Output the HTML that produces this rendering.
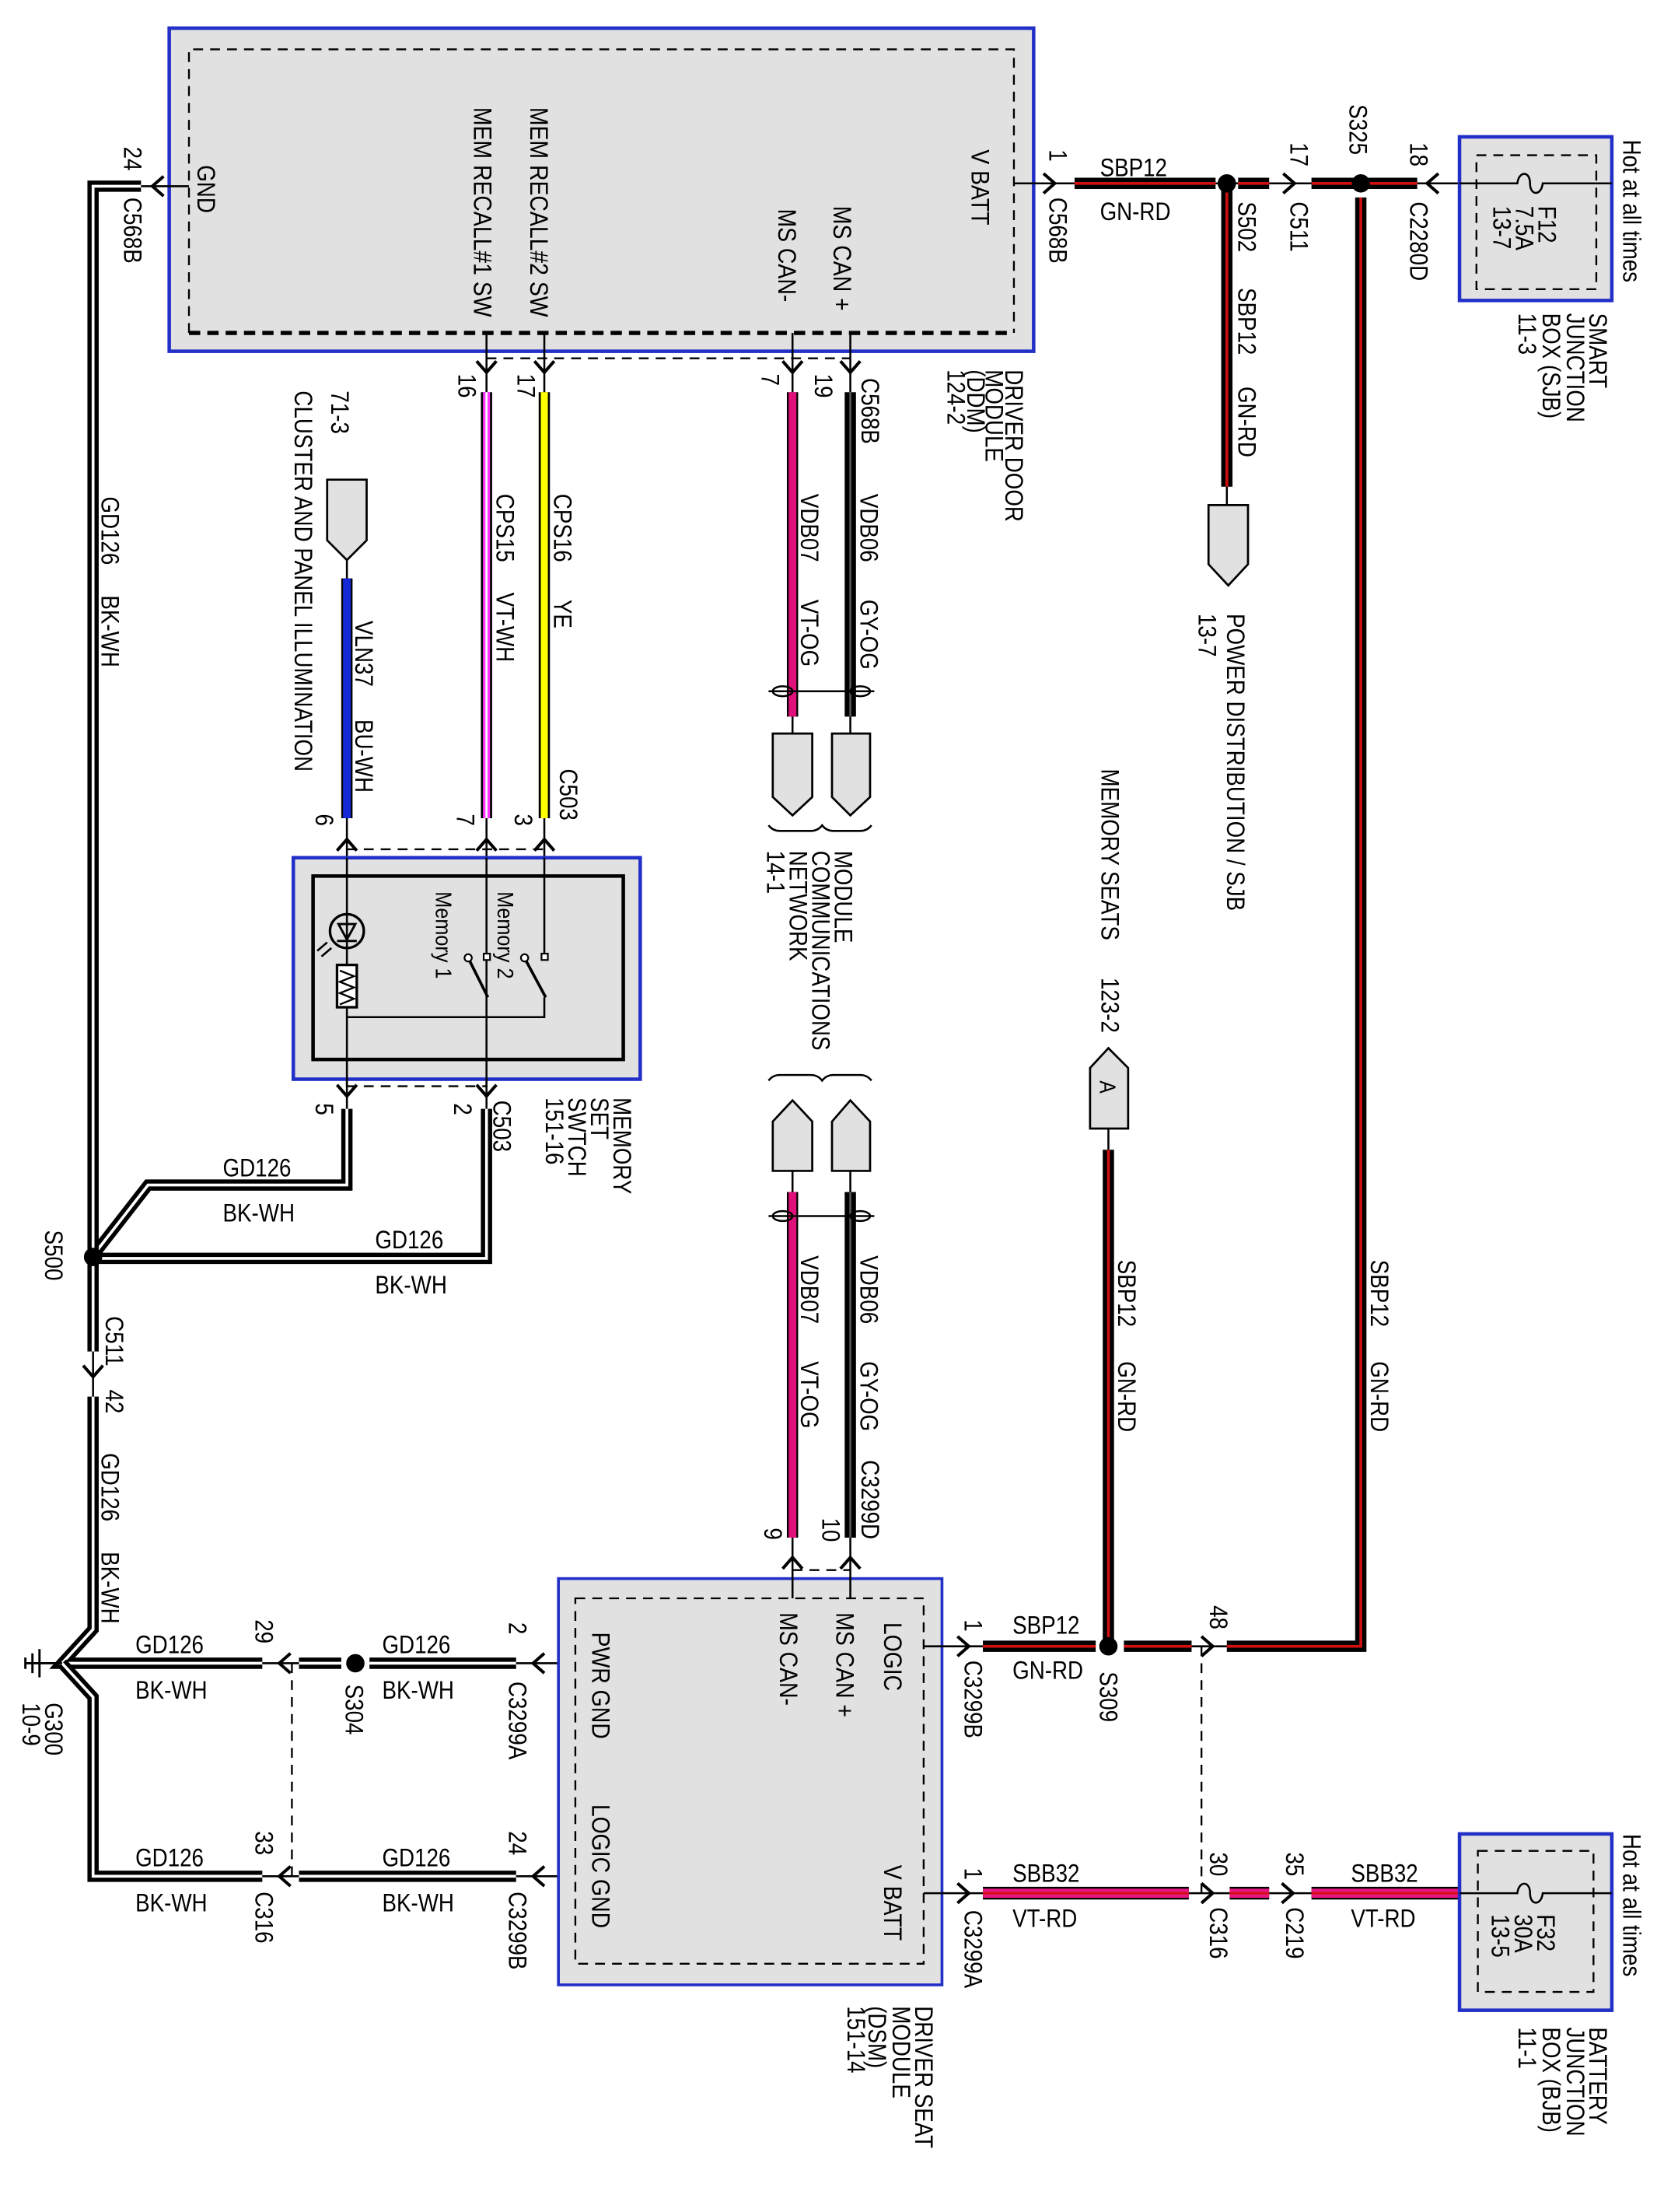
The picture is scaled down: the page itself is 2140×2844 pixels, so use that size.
<!DOCTYPE html>
<html><head><meta charset="utf-8"><style>
html,body{margin:0;padding:0;background:#fff}
svg{display:block}
text{font-family:"Liberation Sans",Arial,sans-serif;font-size:18px;fill:#000}
.s{font-size:16px}
.thin{stroke:#000;stroke-width:1.4;fill:none}
.dash{stroke:#000;stroke-width:1.3;fill:none;stroke-dasharray:7 5}
.ar{stroke:#000;stroke-width:2.2;fill:none}
</style></head><body>
<svg width="2140" height="2844" viewBox="0 0 1180 1568" preserveAspectRatio="none" xmlns="http://www.w3.org/2000/svg">
<rect width="1180" height="1568" fill="#fff"/>

<!-- DDM box -->
<rect x="120" y="20" width="613" height="229" fill="#e1e1e1" stroke="#2230c8" stroke-width="2.5"/>
<path d="M134,236 V35 H719 V236" class="dash"/>
<line x1="134" y1="236" x2="719" y2="236" stroke="#000" stroke-width="3" stroke-dasharray="8 5"/>
<line x1="345" y1="254" x2="603" y2="254" class="dash"/>
<!-- DDM pin stubs -->
<path d="M345,236V278 M386,236V278 M562,236V278 M603,236V278" class="thin"/>
<path d="M338,256L345,264L352,256 M379,256L386,264L393,256 M555,256L562,264L569,256 M596,256L603,264L610,256" class="ar"/>

<!-- wires top vertical -->
<line x1="345" y1="278" x2="345" y2="580" stroke="#000" stroke-width="8"/><line x1="345" y1="278" x2="345" y2="580" stroke="#ff33ff" stroke-width="5"/><line x1="345" y1="278" x2="345" y2="580" stroke="#fff" stroke-width="1.5"/>
<line x1="386" y1="278" x2="386" y2="580" stroke="#000" stroke-width="8"/><line x1="386" y1="278" x2="386" y2="580" stroke="#ffff00" stroke-width="5"/>
<line x1="562" y1="278" x2="562" y2="508" stroke="#000" stroke-width="8"/><line x1="562" y1="278" x2="562" y2="508" stroke="#e0107a" stroke-width="5.5"/>
<line x1="603" y1="278" x2="603" y2="508" stroke="#000" stroke-width="8"/><line x1="603" y1="278" x2="603" y2="508" stroke="#555" stroke-width="1.5"/>
<!-- twist -->
<path d="M545,490 H620" class="thin"/>
<ellipse cx="555" cy="490" rx="7" ry="3.5" class="thin"/><ellipse cx="610" cy="490" rx="7" ry="3.5" class="thin"/>
<path d="M562,508V520 M603,508V520" class="thin"/>
<!-- CAN connectors down -->
<path d="M548,520H576V565L562,578L548,565Z" fill="#e1e1e1" stroke="#000" stroke-width="1.5"/>
<path d="M590,520H617V565L603,578L590,565Z" fill="#e1e1e1" stroke="#000" stroke-width="1.5"/>
<path d="M545,585 q3,4 8,4 H575 q5,0 8,-4 q3,4 8,4 H610 q5,0 8,-4" class="thin"/>

<!-- cluster connector -->
<path d="M232,340H260V383L246,397L232,383Z" fill="#e1e1e1" stroke="#000" stroke-width="1.5"/>
<path d="M246,397V410" class="thin"/>
<line x1="246" y1="410" x2="246" y2="580" stroke="#000" stroke-width="8"/><line x1="246" y1="410" x2="246" y2="580" stroke="#1428d8" stroke-width="5.5"/>

<!-- memory switch -->
<path d="M246,580V608 M345,580V608 M386,580V608" class="thin"/>
<path d="M239,603L246,595L253,603 M338,603L345,595L352,603 M379,603L386,595L393,603" class="ar"/>
<line x1="246" y1="602" x2="386" y2="602" class="dash"/>
<rect x="208" y="608" width="246" height="157" fill="#e1e1e1" stroke="#2230c8" stroke-width="2.5"/>
<rect x="222" y="621" width="220" height="130" fill="none" stroke="#000" stroke-width="2.5"/>
<path d="M246,608V770 M345,608V770 M386,608V678 M386,707V721 H246" class="thin"/>
<circle cx="246" cy="660" r="12" fill="none" stroke="#000" stroke-width="1.8"/>
<path d="M240,655H252L246,666Z M239,667H253" fill="none" stroke="#000" stroke-width="1.6"/>
<path d="M232,668 l-7,6 M235,672 l-7,6" stroke="#000" stroke-width="1.4"/>
<rect x="239" y="684" width="14" height="30" fill="#fff" stroke="#000" stroke-width="1.8"/>
<path d="M241,688 l10,4 l-10,4 l10,4 l-10,4 l10,4 l-10,4" fill="none" stroke="#000" stroke-width="1.3"/>
<rect x="343" y="676" width="4.5" height="4.5" fill="#fff" stroke="#000" stroke-width="1.2"/>
<rect x="384" y="676" width="4.5" height="4.5" fill="#fff" stroke="#000" stroke-width="1.2"/>
<circle cx="332" cy="679" r="2.6" fill="#fff" stroke="#000" stroke-width="1.2"/>
<circle cx="372" cy="679" r="2.6" fill="#fff" stroke="#000" stroke-width="1.2"/>
<path d="M333,681 L346,707 M373,681 L387,707" stroke="#000" stroke-width="2"/>
<line x1="246" y1="770" x2="345" y2="770" class="dash"/>
<path d="M246,765V786 M345,765V786" class="thin"/>
<path d="M239,769L246,777L253,769 M338,769L345,777L352,769" class="ar"/>

<!-- ground wires BK-WH -->
<g fill="none" stroke-linejoin="miter">
<polyline points="246,786 246,840 105,840 66,890" stroke="#000" stroke-width="8"/>
<polyline points="246,786 246,840 105,840 66,890" stroke="#fff" stroke-width="2"/>
<polyline points="345,786 345,892 66,892" stroke="#000" stroke-width="8"/>
<polyline points="345,786 345,892 66,892" stroke="#fff" stroke-width="2"/>
<polyline points="100,132 66,132 66,958" stroke="#000" stroke-width="8"/>
<polyline points="100,132 66,132 66,958" stroke="#fff" stroke-width="2"/>
<polyline points="66,990 66,1155 44,1179 186,1179" stroke="#000" stroke-width="8"/>
<polyline points="66,990 66,1155 44,1179 186,1179" stroke="#fff" stroke-width="2"/>
<polyline points="186,1330 66,1330 66,1203 44,1179" stroke="#000" stroke-width="8"/>
<polyline points="186,1330 66,1330 66,1203 44,1179" stroke="#fff" stroke-width="2"/>
<line x1="212" y1="1179" x2="242" y2="1179" stroke="#000" stroke-width="8"/><line x1="212" y1="1179" x2="242" y2="1179" stroke="#fff" stroke-width="2"/>
<line x1="262" y1="1179" x2="366" y2="1179" stroke="#000" stroke-width="8"/><line x1="262" y1="1179" x2="366" y2="1179" stroke="#fff" stroke-width="2"/>
<line x1="212" y1="1330" x2="366" y2="1330" stroke="#000" stroke-width="8"/><line x1="212" y1="1330" x2="366" y2="1330" stroke="#fff" stroke-width="2"/>
</g>
<path d="M100,132H134 M66,958V990 M186,1179H212 M366,1179H408 M186,1330H212 M366,1330H408" class="thin"/>
<path d="M116,125L108,132L116,139 M59,968L66,976L73,968 M206,1172L198,1179L206,1186 M386,1172L378,1179L386,1186 M206,1323L198,1330L206,1337 M386,1323L378,1330L386,1337" class="ar"/>
<circle cx="66" cy="891" r="6.5" fill="#000"/>
<circle cx="252" cy="1179" r="6.5" fill="#000"/>
<line x1="207" y1="1179" x2="207" y2="1330" class="dash"/>
<!-- ground symbol -->
<path d="M18,1179H44 M28,1169V1189 M23,1172V1186 M18,1175V1183" stroke="#000" stroke-width="1.6"/>

<!-- DSM box -->
<rect x="396" y="1119" width="272" height="288" fill="#e1e1e1" stroke="#2230c8" stroke-width="2"/>
<rect x="408" y="1133" width="247" height="259" fill="none" class="dash"/>
<path d="M562,1133V1090 M603,1133V1090" class="thin"/>
<path d="M555,1112L562,1104L569,1112 M596,1112L603,1104L610,1112" class="ar"/>
<line x1="562" y1="1113" x2="603" y2="1113" class="dash"/>
<line x1="562" y1="845" x2="562" y2="1090" stroke="#000" stroke-width="8"/><line x1="562" y1="845" x2="562" y2="1090" stroke="#e0107a" stroke-width="5.5"/>
<line x1="603" y1="845" x2="603" y2="1090" stroke="#000" stroke-width="8"/><line x1="603" y1="845" x2="603" y2="1090" stroke="#555" stroke-width="1.5"/>
<path d="M545,862 H620" class="thin"/>
<ellipse cx="555" cy="862" rx="7" ry="3.5" class="thin"/><ellipse cx="610" cy="862" rx="7" ry="3.5" class="thin"/>
<path d="M562,830V845 M603,830V845" class="thin"/>
<path d="M548,830H576V795L562,780L548,795Z" fill="#e1e1e1" stroke="#000" stroke-width="1.5"/>
<path d="M590,830H617V795L603,780L590,795Z" fill="#e1e1e1" stroke="#000" stroke-width="1.5"/>
<path d="M545,766 q3,-4 8,-4 H575 q5,0 8,4 q3,-4 8,-4 H610 q5,0 8,4" class="thin"/>

<!-- right side wires -->
<path d="M655,1167H697 M655,1342H697 M845,1167H870 M843,1342H872 M900,1342H930" class="thin"/>
<path d="M679,1160L687,1167L679,1174 M679,1335L687,1342L679,1349 M852,1160L860,1167L852,1174 M852,1335L860,1342L852,1349 M909,1335L917,1342L909,1349" class="ar"/>
<line x1="852" y1="1167" x2="852" y2="1342" class="dash"/>
<g fill="none">
<polyline points="697,1167 777,1167" stroke="#000" stroke-width="8"/><polyline points="697,1167 777,1167" stroke="#d01010" stroke-width="2"/>
<polyline points="797,1167 845,1167" stroke="#000" stroke-width="8"/><polyline points="797,1167 845,1167" stroke="#d01010" stroke-width="2"/>
<polyline points="870,1167 965,1167 965,140" stroke="#000" stroke-width="8"/><polyline points="870,1167 965,1167 965,140" stroke="#d01010" stroke-width="2"/>
<polyline points="786,1167 786,815" stroke="#000" stroke-width="8"/><polyline points="786,1167 786,815" stroke="#d01010" stroke-width="2"/>
<line x1="697" y1="1342" x2="843" y2="1342" stroke="#000" stroke-width="9"/><line x1="697" y1="1342" x2="843" y2="1342" stroke="#e8157f" stroke-width="6.5"/><line x1="697" y1="1342" x2="843" y2="1342" stroke="#d01010" stroke-width="1.5"/>
<line x1="872" y1="1342" x2="900" y2="1342" stroke="#000" stroke-width="9"/><line x1="872" y1="1342" x2="900" y2="1342" stroke="#e8157f" stroke-width="6.5"/><line x1="872" y1="1342" x2="900" y2="1342" stroke="#d01010" stroke-width="1.5"/>
<line x1="930" y1="1342" x2="1035" y2="1342" stroke="#000" stroke-width="9"/><line x1="930" y1="1342" x2="1035" y2="1342" stroke="#e8157f" stroke-width="6.5"/><line x1="930" y1="1342" x2="1035" y2="1342" stroke="#d01010" stroke-width="1.5"/>
</g>
<circle cx="786" cy="1167" r="6.5" fill="#000"/>
<path d="M786,815V800" class="thin"/>
<path d="M773,800H800V757L786,743L773,757Z" fill="#e1e1e1" stroke="#000" stroke-width="1.5"/>

<!-- BJB -->
<rect x="1035" y="1300" width="108" height="125" fill="#e1e1e1" stroke="#2230c8" stroke-width="2.5"/>
<rect x="1048" y="1312" width="82" height="100" fill="none" class="dash"/>
<path d="M1035,1342H1076 c1,-9 9,-9 9,0 c0,9 8,9 9,0 H1143" class="thin"/>

<!-- top right chain -->
<path d="M719,130H762 M862,130H880 M900,130H930 M1005,130H1076 c1,-9 9,-9 9,0 c0,9 8,9 9,0 H1143" class="thin"/>
<path d="M740,123L748,130L740,137 M910,123L918,130L910,137 M1020,123L1012,130L1020,137" class="ar"/>
<g fill="none">
<line x1="762" y1="130" x2="862" y2="130" stroke="#000" stroke-width="8"/><line x1="762" y1="130" x2="862" y2="130" stroke="#d01010" stroke-width="2"/>
<line x1="878" y1="130" x2="900" y2="130" stroke="#000" stroke-width="8"/><line x1="878" y1="130" x2="900" y2="130" stroke="#d01010" stroke-width="2"/>
<line x1="930" y1="130" x2="1005" y2="130" stroke="#000" stroke-width="8"/><line x1="930" y1="130" x2="1005" y2="130" stroke="#d01010" stroke-width="2"/>
<line x1="870" y1="130" x2="870" y2="345" stroke="#000" stroke-width="8"/><line x1="870" y1="130" x2="870" y2="345" stroke="#d01010" stroke-width="2"/>
</g>
<circle cx="870" cy="130" r="6.5" fill="#000"/>
<circle cx="965" cy="130" r="6.5" fill="#000"/>
<path d="M870,345V358" class="thin"/>
<path d="M857,358H885V400L871,415L857,400Z" fill="#e1e1e1" stroke="#000" stroke-width="1.5"/>
<rect x="1035" y="97" width="108" height="116" fill="#e1e1e1" stroke="#2230c8" stroke-width="2.5"/>
<rect x="1047" y="110" width="85" height="95" fill="none" class="dash"/>
<path d="M1035,130H1076 c1,-9 9,-9 9,0 c0,9 8,9 9,0 H1143" class="thin"/>

<!-- rotated labels -->
<g>
<text transform="translate(140,117) rotate(90) scale(0.85,1)">GND</text>
<text transform="translate(336,76) rotate(90) scale(0.87,1)">MEM RECALL#1 SW</text>
<text transform="translate(376,76) rotate(90) scale(0.87,1)">MEM RECALL#2 SW</text>
<text transform="translate(552,148) rotate(90) scale(0.87,1)">MS CAN-</text>
<text transform="translate(591,146) rotate(90) scale(0.87,1)">MS CAN +</text>
<text transform="translate(689,106) rotate(90) scale(0.87,1)">V BATT</text>
<text transform="translate(88,104) rotate(90) scale(0.85,1)">24</text>
<text transform="translate(88,140) rotate(90) scale(0.85,1)">C568B</text>
<text transform="translate(744,106) rotate(90) scale(0.85,1)">1</text>
<text transform="translate(744,140) rotate(90) scale(0.85,1)">C568B</text>
<text transform="translate(713,262) rotate(90) scale(0.85,1)">DRIVER DOOR</text>
<text transform="translate(699,262) rotate(90) scale(0.85,1)">MODULE</text>
<text transform="translate(686,262) rotate(90) scale(0.85,1)">(DDM)</text>
<text transform="translate(672,262) rotate(90) scale(0.85,1)">124-2</text>
<text transform="translate(878,143) rotate(90) scale(0.85,1)">S502</text>
<text transform="translate(915,143) rotate(90) scale(0.85,1)">C511</text>
<text transform="translate(915,101) rotate(90) scale(0.85,1)">17</text>
<text transform="translate(957,74) rotate(90) scale(0.85,1)">S325</text>
<text transform="translate(1000,101) rotate(90) scale(0.85,1)">18</text>
<text transform="translate(1000,143) rotate(90) scale(0.85,1)">C2280D</text>
<text transform="translate(878,204) rotate(90) scale(0.85,1)">SBP12</text>
<text transform="translate(878,274) rotate(90) scale(0.85,1)">GN-RD</text>
<text transform="translate(1091,146) rotate(90) scale(0.85,1)">F12</text>
<text transform="translate(1075,146) rotate(90) scale(0.85,1)">7.5A</text>
<text transform="translate(1059,146) rotate(90) scale(0.85,1)">13-7</text>
<text transform="translate(1151,99) rotate(90) scale(0.85,1)">Hot at all times</text>
<text transform="translate(1127,222) rotate(90) scale(0.85,1)">SMART</text>
<text transform="translate(1111,222) rotate(90) scale(0.85,1)">JUNCTION</text>
<text transform="translate(1094,222) rotate(90) scale(0.85,1)">BOX (SJB)</text>
<text transform="translate(1077,222) rotate(90) scale(0.85,1)">11-3</text>
<text transform="translate(870,435) rotate(90) scale(0.85,1)">POWER DISTRIBUTION / SJB</text>
<text transform="translate(850,435) rotate(90) scale(0.85,1)">13-7</text>
<text transform="translate(235,277) rotate(90) scale(0.85,1)">71-3</text>
<text transform="translate(209,277) rotate(90) scale(0.85,1)">CLUSTER AND PANEL ILLUMINATION</text>
<text transform="translate(325,265) rotate(90) scale(0.85,1)">16</text>
<text transform="translate(367,265) rotate(90) scale(0.85,1)">17</text>
<text transform="translate(540,265) rotate(90) scale(0.85,1)">7</text>
<text transform="translate(578,265) rotate(90) scale(0.85,1)">19</text>
<text transform="translate(611,268) rotate(90) scale(0.85,1)">C568B</text>
<text transform="translate(352,350) rotate(90) scale(0.85,1)">CPS15</text>
<text transform="translate(352,420) rotate(90) scale(0.85,1)">VT-WH</text>
<text transform="translate(393,350) rotate(90) scale(0.85,1)">CPS16</text>
<text transform="translate(393,425) rotate(90) scale(0.85,1)">YE</text>
<text transform="translate(568,350) rotate(90) scale(0.85,1)">VDB07</text>
<text transform="translate(568,425) rotate(90) scale(0.85,1)">VT-OG</text>
<text transform="translate(610,350) rotate(90) scale(0.85,1)">VDB06</text>
<text transform="translate(610,425) rotate(90) scale(0.85,1)">GY-OG</text>
<text transform="translate(72,352) rotate(90) scale(0.85,1)">GD126</text>
<text transform="translate(72,422) rotate(90) scale(0.85,1)">BK-WH</text>
<text transform="translate(252,440) rotate(90) scale(0.85,1)">VLN37</text>
<text transform="translate(252,510) rotate(90) scale(0.85,1)">BU-WH</text>
<text transform="translate(224,577) rotate(90) scale(0.85,1)">6</text>
<text transform="translate(324,577) rotate(90) scale(0.85,1)">7</text>
<text transform="translate(365,577) rotate(90) scale(0.85,1)">3</text>
<text transform="translate(397,545) rotate(90) scale(0.85,1)">C503</text>
<text class="s" transform="translate(353,632) rotate(90) scale(0.87,1)">Memory 2</text>
<text class="s" transform="translate(309,632) rotate(90) scale(0.87,1)">Memory 1</text>
<text transform="translate(224,782) rotate(90) scale(0.85,1)">5</text>
<text transform="translate(322,782) rotate(90) scale(0.85,1)">2</text>
<text transform="translate(350,780) rotate(90) scale(0.85,1)">C503</text>
<text transform="translate(435,778) rotate(90) scale(0.85,1)">MEMORY</text>
<text transform="translate(419,778) rotate(90) scale(0.85,1)">SET</text>
<text transform="translate(403,778) rotate(90) scale(0.85,1)">SWTCH</text>
<text transform="translate(387,778) rotate(90) scale(0.85,1)">151-16</text>
<text transform="translate(592,603) rotate(90) scale(0.85,1)">MODULE</text>
<text transform="translate(576,603) rotate(90) scale(0.85,1)">COMMUNICATIONS</text>
<text transform="translate(560,603) rotate(90) scale(0.85,1)">NETWORK</text>
<text transform="translate(544,603) rotate(90) scale(0.85,1)">14-1</text>
<text transform="translate(32,872) rotate(90) scale(0.85,1)">S500</text>
<text transform="translate(75,933) rotate(90) scale(0.85,1)">C511</text>
<text transform="translate(75,985) rotate(90) scale(0.85,1)">42</text>
<text transform="translate(72,1030) rotate(90) scale(0.85,1)">GD126</text>
<text transform="translate(72,1100) rotate(90) scale(0.85,1)">BK-WH</text>
<text transform="translate(32,1207) rotate(90) scale(0.85,1)">G300</text>
<text transform="translate(16,1207) rotate(90) scale(0.85,1)">10-9</text>
<text transform="translate(181,1148) rotate(90) scale(0.85,1)">29</text>
<text transform="translate(361,1150) rotate(90) scale(0.85,1)">2</text>
<text transform="translate(245,1194) rotate(90) scale(0.85,1)">S304</text>
<text transform="translate(361,1192) rotate(90) scale(0.85,1)">C3299A</text>
<text transform="translate(181,1298) rotate(90) scale(0.85,1)">33</text>
<text transform="translate(181,1341) rotate(90) scale(0.85,1)">C316</text>
<text transform="translate(361,1298) rotate(90) scale(0.85,1)">24</text>
<text transform="translate(361,1341) rotate(90) scale(0.85,1)">C3299B</text>
<text transform="translate(420,1157) rotate(90) scale(0.87,1)">PWR GND</text>
<text transform="translate(420,1279) rotate(90) scale(0.87,1)">LOGIC GND</text>
<text transform="translate(553,1143) rotate(90) scale(0.87,1)">MS CAN-</text>
<text transform="translate(593,1143) rotate(90) scale(0.87,1)">MS CAN +</text>
<text transform="translate(627,1150) rotate(90) scale(0.87,1)">LOGIC</text>
<text transform="translate(627,1322) rotate(90) scale(0.87,1)">V BATT</text>
<text transform="translate(684,1148) rotate(90) scale(0.85,1)">1</text>
<text transform="translate(684,1177) rotate(90) scale(0.85,1)">C3299B</text>
<text transform="translate(684,1324) rotate(90) scale(0.85,1)">1</text>
<text transform="translate(684,1354) rotate(90) scale(0.85,1)">C3299A</text>
<text transform="translate(649,1422) rotate(90) scale(0.85,1)">DRIVER SEAT</text>
<text transform="translate(633,1422) rotate(90) scale(0.85,1)">MODULE</text>
<text transform="translate(616,1422) rotate(90) scale(0.85,1)">(DSM)</text>
<text transform="translate(601,1422) rotate(90) scale(0.85,1)">151-14</text>
<text transform="translate(542,1083) rotate(90) scale(0.85,1)">9</text>
<text transform="translate(583,1076) rotate(90) scale(0.85,1)">10</text>
<text transform="translate(611,1035) rotate(90) scale(0.85,1)">C3299D</text>
<text transform="translate(568,890) rotate(90) scale(0.85,1)">VDB07</text>
<text transform="translate(568,965) rotate(90) scale(0.85,1)">VT-OG</text>
<text transform="translate(610,890) rotate(90) scale(0.85,1)">VDB06</text>
<text transform="translate(610,965) rotate(90) scale(0.85,1)">GY-OG</text>
<text transform="translate(780,1185) rotate(90) scale(0.85,1)">S309</text>
<text transform="translate(858,1138) rotate(90) scale(0.85,1)">48</text>
<text transform="translate(793,893) rotate(90) scale(0.85,1)">SBP12</text>
<text transform="translate(793,965) rotate(90) scale(0.85,1)">GN-RD</text>
<text transform="translate(972,893) rotate(90) scale(0.85,1)">SBP12</text>
<text transform="translate(972,965) rotate(90) scale(0.85,1)">GN-RD</text>
<text class="s" transform="translate(780,766) rotate(90) scale(0.85,1)">A</text>
<text transform="translate(781,545) rotate(90) scale(0.85,1)">MEMORY SEATS</text>
<text transform="translate(781,693) rotate(90) scale(0.85,1)">123-2</text>
<text transform="translate(858,1313) rotate(90) scale(0.85,1)">30</text>
<text transform="translate(858,1352) rotate(90) scale(0.85,1)">C316</text>
<text transform="translate(912,1313) rotate(90) scale(0.85,1)">35</text>
<text transform="translate(912,1352) rotate(90) scale(0.85,1)">C219</text>
<text transform="translate(1090,1357) rotate(90) scale(0.85,1)">F32</text>
<text transform="translate(1074,1357) rotate(90) scale(0.85,1)">30A</text>
<text transform="translate(1058,1357) rotate(90) scale(0.85,1)">13-5</text>
<text transform="translate(1151,1300) rotate(90) scale(0.85,1)">Hot at all times</text>
<text transform="translate(1127,1437) rotate(90) scale(0.85,1)">BATTERY</text>
<text transform="translate(1111,1437) rotate(90) scale(0.85,1)">JUNCTION</text>
<text transform="translate(1094,1437) rotate(90) scale(0.85,1)">BOX (BJB)</text>
<text transform="translate(1077,1437) rotate(90) scale(0.85,1)">11-1</text>
</g>

<!-- horizontal labels -->
<g>
<text transform="translate(780,125) scale(0.85,1)">SBP12</text>
<text transform="translate(780,156) scale(0.85,1)">GN-RD</text>
<text transform="translate(158,834) scale(0.85,1)">GD126</text>
<text transform="translate(158,866) scale(0.85,1)">BK-WH</text>
<text transform="translate(266,885) scale(0.85,1)">GD126</text>
<text transform="translate(266,917) scale(0.85,1)">BK-WH</text>
<text transform="translate(96,1172) scale(0.85,1)">GD126</text>
<text transform="translate(96,1204) scale(0.85,1)">BK-WH</text>
<text transform="translate(271,1172) scale(0.85,1)">GD126</text>
<text transform="translate(271,1204) scale(0.85,1)">BK-WH</text>
<text transform="translate(96,1323) scale(0.85,1)">GD126</text>
<text transform="translate(96,1355) scale(0.85,1)">BK-WH</text>
<text transform="translate(271,1323) scale(0.85,1)">GD126</text>
<text transform="translate(271,1355) scale(0.85,1)">BK-WH</text>
<text transform="translate(718,1158) scale(0.85,1)">SBP12</text>
<text transform="translate(718,1190) scale(0.85,1)">GN-RD</text>
<text transform="translate(718,1334) scale(0.85,1)">SBB32</text>
<text transform="translate(718,1366) scale(0.85,1)">VT-RD</text>
<text transform="translate(958,1334) scale(0.85,1)">SBB32</text>
<text transform="translate(958,1366) scale(0.85,1)">VT-RD</text>
</g>
</svg>
</body></html>
